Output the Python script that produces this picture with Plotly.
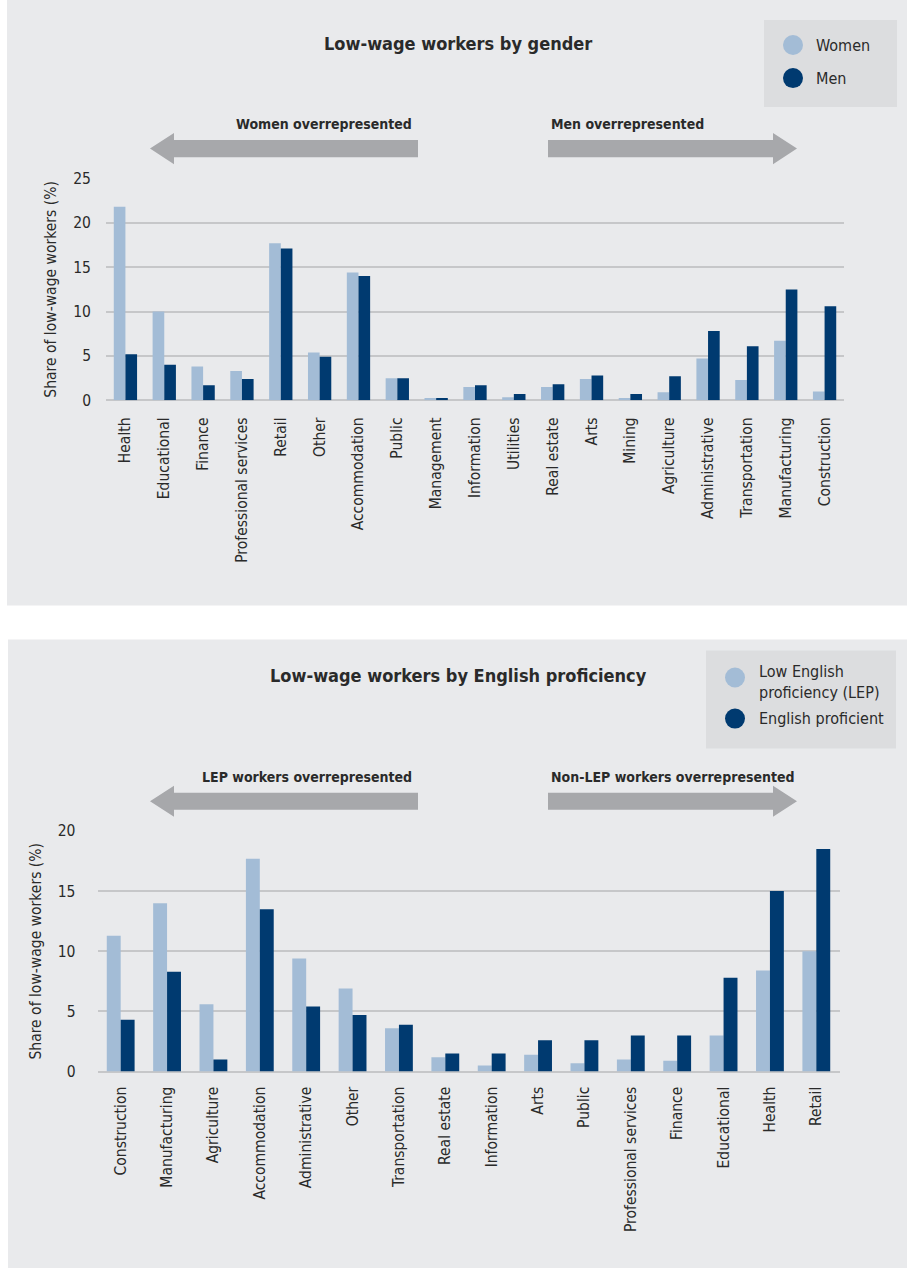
import plotly.graph_objects as go

W, H = 907, 1268
OFFSET_Y, SCALE_Y = 9.0, 0.985  # where the page places the figure vertically

# ---- data -------------------------------------------------------------
gender_categories = [
    "Health", "Educational", "Finance", "Professional services", "Retail",
    "Other", "Accommodation", "Public", "Management", "Information",
    "Utilities", "Real estate", "Arts", "Mining", "Agriculture",
    "Administrative", "Transportation", "Manufacturing", "Construction",
]
women_share = [21.8, 10.0, 3.8, 3.3, 17.7, 5.4, 14.4, 2.5, 0.25, 1.5,
               0.35, 1.5, 2.4, 0.25, 0.9, 4.7, 2.3, 6.7, 1.0]
men_share = [5.2, 4.0, 1.7, 2.4, 17.1, 4.9, 14.0, 2.5, 0.25, 1.7,
             0.7, 1.8, 2.8, 0.7, 2.7, 7.8, 6.1, 12.5, 10.6]

lep_categories = [
    "Construction", "Manufacturing", "Agriculture", "Accommodation",
    "Administrative", "Other", "Transportation", "Real estate",
    "Information", "Arts", "Public", "Professional services", "Finance",
    "Educational", "Health", "Retail",
]
lep_share = [11.3, 14.0, 5.6, 17.7, 9.4, 6.9, 3.6, 1.2,
             0.5, 1.4, 0.7, 1.0, 0.9, 3.0, 8.4, 10.0]
proficient_share = [4.3, 8.3, 1.0, 13.5, 5.4, 4.7, 3.9, 1.5,
                    1.5, 2.6, 2.6, 3.0, 3.0, 7.8, 15.0, 18.5]

# ---- styling ----------------------------------------------------------
LIGHT = "#a3bcd6"
DARK = "#003a70"
PANEL = "#e9eaec"
LEGEND_BG = "#dcdddf"
ARROW = "#a7a8ab"
GRID = "#c6c7c9"
TEXT = "#2a2a2a"
FONT = "DejaVu Sans Condensed, Liberation Sans, sans-serif"


def fx(px):
    return px / W


def fy(py):
    return 1 - ((py - OFFSET_Y) / SCALE_Y) / H


fig = go.Figure()

fig.add_trace(go.Bar(x=gender_categories, y=women_share, name="Women",
                     marker=dict(color=LIGHT, line=dict(width=0)),
                     xaxis="x", yaxis="y", showlegend=False))
fig.add_trace(go.Bar(x=gender_categories, y=men_share, name="Men",
                     marker=dict(color=DARK, line=dict(width=0)),
                     xaxis="x", yaxis="y", showlegend=False))
fig.add_trace(go.Bar(x=lep_categories, y=lep_share,
                     name="Low English proficiency (LEP)",
                     marker=dict(color=LIGHT, line=dict(width=0)),
                     xaxis="x2", yaxis="y2", showlegend=False))
fig.add_trace(go.Bar(x=lep_categories, y=proficient_share,
                     name="English proficient",
                     marker=dict(color=DARK, line=dict(width=0)),
                     xaxis="x2", yaxis="y2", showlegend=False))

tick_font = dict(family=FONT, size=15.5, color=TEXT)
title_font = dict(family=FONT, size=15.5, color=TEXT)

xaxis_common = dict(tickangle=-90, tickfont=tick_font, showgrid=False,
                    zeroline=False, showline=False, ticks="",
                    fixedrange=True)
yaxis_common = dict(tickfont=tick_font, showgrid=True, gridcolor=GRID,
                    gridwidth=1.5, zeroline=True, zerolinecolor=GRID,
                    zerolinewidth=1.5, showline=False, ticks="",
                    dtick=5, fixedrange=True,
                    title_font=title_font)

fig.update_layout(
    width=W, height=H,
    margin=dict(l=0, r=0, t=0, b=0),
    paper_bgcolor="white",
    plot_bgcolor="rgba(0,0,0,0)",
    font=dict(family=FONT, color=TEXT),
    barmode="group",
    bargap=0.4,
    bargroupgap=0,
    xaxis=dict(domain=[fx(106), fx(844)], anchor="y",
               ticklabelstandoff=13, **xaxis_common),
    yaxis=dict(domain=[fy(400), fy(178.3)], anchor="x", range=[0, 25],
               title=dict(text="Share of low-wage workers (%)", standoff=12),
               ticklabelstandoff=14, **yaxis_common),
    xaxis2=dict(domain=[fx(97.5), fx(839.5)], anchor="y2",
                ticklabelstandoff=11, **xaxis_common),
    yaxis2=dict(domain=[fy(1070.7), fy(830.3)], anchor="x2", range=[0, 20],
                title=dict(text="Share of low-wage workers (%)", standoff=12),
                ticklabelstandoff=21, **yaxis_common),
)

shapes = []
annotations = []


def rect(x0, y0, x1, y1, color):
    shapes.append(dict(type="rect", xref="paper", yref="paper",
                       x0=fx(x0), x1=fx(x1), y0=fy(y1), y1=fy(y0),
                       fillcolor=color, line=dict(width=0), layer="below"))


def circle(cx, cy, r, color):
    shapes.append(dict(type="circle", xref="paper", yref="paper",
                       x0=fx(cx - r), x1=fx(cx + r),
                       y0=fy(cy + r), y1=fy(cy - r),
                       fillcolor=color, line=dict(width=0), layer="above"))


def arrow(x_tail, x_tip, cy, head_len=24, body_half=8.5, head_half=15.5):
    d = 1 if x_tip > x_tail else -1
    xb = x_tip - d * head_len
    pts = [(x_tail, cy - body_half), (xb, cy - body_half),
           (xb, cy - head_half), (x_tip, cy), (xb, cy + head_half),
           (xb, cy + body_half), (x_tail, cy + body_half)]
    path = "M " + " L ".join(f"{fx(px):.5f},{fy(py):.5f}" for px, py in pts) + " Z"
    shapes.append(dict(type="path", xref="paper", yref="paper", path=path,
                       fillcolor=ARROW, line=dict(width=0), layer="below"))


def text(s, x, y, size=16, bold=False, xanchor="left"):
    annotations.append(dict(text=f"<b>{s}</b>" if bold else s,
                            xref="paper", yref="paper", x=fx(x), y=fy(y),
                            xanchor=xanchor, yanchor="middle",
                            showarrow=False,
                            font=dict(family=FONT, size=size, color=TEXT)))


# panel backgrounds
rect(7, -10, 907, 605, PANEL)
rect(8, 639, 907, 1300, PANEL)

# top panel: title, legend, direction arrows
text("Low-wage workers by gender", 458, 43, size=18, bold=True,
     xanchor="center")
rect(764, 20, 897, 107, LEGEND_BG)
circle(793, 45, 10, LIGHT)
circle(793, 78, 10, DARK)
text("Women", 814, 45)
text("Men", 814, 78)
text("Women overrepresented", 414, 124, size=14, bold=True,
     xanchor="right")
text("Men overrepresented", 549, 124, size=14, bold=True)
arrow(418, 150, 148.5)
arrow(548, 797, 148.5)

# bottom panel: title, legend, direction arrows
text("Low-wage workers by English proficiency", 458, 675, size=18,
     bold=True, xanchor="center")
rect(706, 650, 896, 748, LEGEND_BG)
circle(735, 677, 10, LIGHT)
circle(735, 718, 10, DARK)
text("Low English", 757, 671)
text("proficiency (LEP)", 757, 692)
text("English proficient", 757, 718)
text("LEP workers overrepresented", 414, 776, size=14, bold=True,
     xanchor="right")
text("Non-LEP workers overrepresented", 549, 776, size=14, bold=True)
arrow(418, 150, 800.5)
arrow(548, 797, 800.5)

fig.update_layout(shapes=shapes, annotations=annotations)

fig.write_html("out.html")
